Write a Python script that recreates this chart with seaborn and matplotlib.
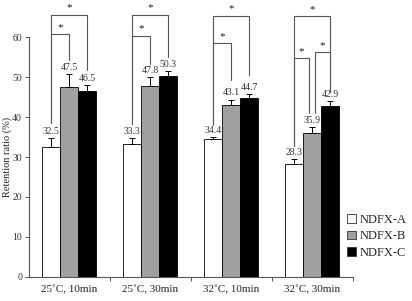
import matplotlib
matplotlib.use("Agg")
import matplotlib.pyplot as plt
import seaborn as sns
import pandas as pd
import numpy as np
from matplotlib.patches import Patch

categories = ["25˚C, 10min", "25˚C, 30min", "32˚C, 10min", "32˚C, 30min"]
series = ["NDFX-A", "NDFX-B", "NDFX-C"]
vals_a = [32.5, 33.3, 34.4, 28.3]
vals_b = [47.5, 47.8, 43.1, 35.9]
vals_c = [46.5, 50.3, 44.7, 42.9]
err_a = [2.2, 1.5, 0.6, 1.2]
err_b = [3.3, 2.2, 1.3, 1.5]
err_c = [1.5, 1.3, 1.1, 1.1]
yticks = [0, 10, 20, 30, 40, 50, 60]

rows = []
for s, vals in zip(series, [vals_a, vals_b, vals_c]):
    for c, v in zip(categories, vals):
        rows.append({"cond": c, "sample": s, "value": v})
df = pd.DataFrame(rows)

sns.set_style("ticks")
plt.rcParams["font.family"] = ["Liberation Serif", "DejaVu Serif"]

fig = plt.figure(figsize=(4.12, 3.01), dpi=100)
ax = fig.add_axes([0.0704, 0.0807, 0.856 - 0.0704, 0.876 - 0.0807])

colors = ["#FFFFFF", "#A0A0A0", "#000000"]
sns.barplot(data=df, x="cond", y="value", hue="sample", order=categories,
            hue_order=series, palette=colors, width=2 / 3, errorbar=None,
            edgecolor="black", linewidth=0.6, ax=ax, legend=False, saturation=1)

errs = [err_a, err_b, err_c]
valsets = [vals_a, vals_b, vals_c]
bar_containers = list(ax.containers)
centers = []
for k, cont in enumerate(bar_containers):
    xs = [b.get_x() + b.get_width() / 2 for b in cont]
    centers.append(xs)
    ax.errorbar(xs, valsets[k], yerr=[np.zeros(len(xs)), errs[k]], fmt="none",
                ecolor="black", elinewidth=0.7, capsize=2.5, capthick=0.7, zorder=3)
    for x, v, e in zip(xs, valsets[k], errs[k]):
        ax.annotate(f"{v:.1f}", (x, v + e), xytext=(0, 1.5), textcoords="offset points",
                    ha="center", va="bottom", fontsize=7, color="#333333")

# significance brackets: (group, bar_i, bar_j, top, bottom_i, bottom_j, dx_i, dx_j)
brackets = [
    (0, 0, 1, 60.8, 38.5, 54.3, 0, 0),
    (0, 0, 2, 65.6, 38.5, 51.8, 0, 0),
    (1, 0, 1, 60.4, 38.3, 53.4, 0, 0),
    (1, 0, 2, 65.6, 38.3, 55.1, 0, 0),
    (2, 0, 1, 58.5, 38.0, 49.3, 0, 0),
    (2, 0, 2, 65.4, 38.0, 50.5, 0, 0),
    (3, 0, 1, 54.7, 32.8, 41.0, 0, -0.045),
    (3, 1, 2, 56.2, 41.0, 46.4, 0.03, 0),
    (3, 0, 2, 65.3, 32.8, 46.4, 0, 0),
]
for g, i, j, top, bi, bj, dxi, dxj in brackets:
    x1 = centers[i][g] + dxi
    x2 = centers[j][g] + dxj
    ax.plot([x1, x1, x2, x2], [bi, top, top, bj], color="#555555", lw=0.8,
            clip_on=False, zorder=4)
    ax.text((x1 + x2) / 2, top + 0.6, "*", ha="center", va="bottom",
            fontsize=8, color="#222222", clip_on=False)

ax.set_ylim(0, 60)
ax.set_xlim(-0.5, 3.5)
ax.set_yticks(yticks)
ax.set_yticklabels([str(t) for t in yticks], fontsize=7, color="#333333")
ax.set_xticks(range(len(categories)))
ax.set_xticklabels(categories, fontsize=8, color="#222222")
ax.set_xticks([0.5, 1.5, 2.5, 3.5], minor=True)
ax.tick_params(axis="x", which="major", length=0, pad=6)
ax.tick_params(axis="x", which="minor", length=3, width=0.7, direction="out", color="#555555")
ax.tick_params(axis="y", length=3, width=0.7, direction="out", color="#555555", pad=2)
ax.set_xlabel("")
ax.set_ylabel("Retention ratio (%)", fontsize=7.5, color="#222222")
ax.yaxis.set_label_coords(-0.052, 0.5)
for s in ["top", "right"]:
    ax.spines[s].set_visible(False)
for s in ["left", "bottom"]:
    ax.spines[s].set_color("#555555")
    ax.spines[s].set_linewidth(0.8)

handles = [Patch(facecolor=c, edgecolor="#333333", linewidth=0.6) for c in colors]
fig.legend(handles, series, loc="upper left", bbox_to_anchor=(0.822, 0.318),
           frameon=False, fontsize=9, handlelength=0.7, handleheight=0.7,
           handletextpad=0.3, labelspacing=0.35, borderpad=0.2)

fig.savefig("out.png", dpi=100)
